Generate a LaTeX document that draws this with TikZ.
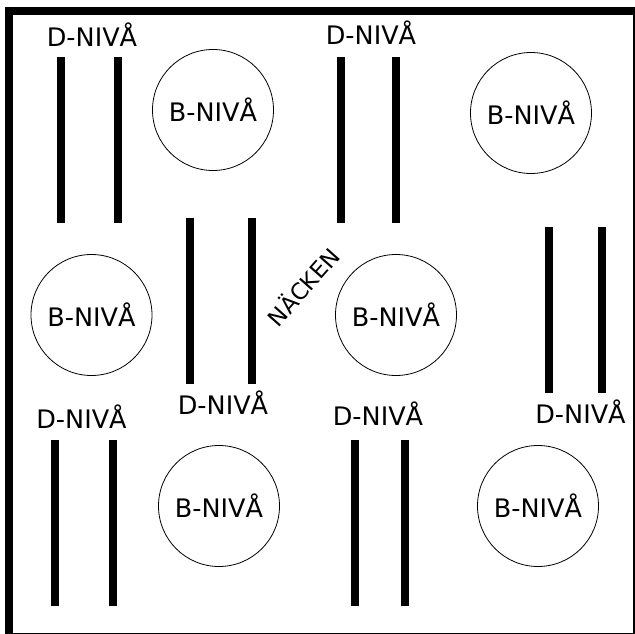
\documentclass[tikz,border=0pt]{standalone}
\usepackage{fontspec}
\setmainfont{DejaVu Sans}
\usetikzlibrary{positioning}

\begin{document}
\begin{tikzpicture}[x=1pt,y=-1pt,
        bniva/.style={draw,circle,line width=.8pt,minimum size=121pt,inner sep=0pt,font=\fontsize{25.5}{30}\selectfont},
        bar/.style={fill=black,minimum width=8pt,minimum height=166pt,inner sep=0pt},
        dniva/.style={anchor=base,inner sep=0pt,font=\fontsize{25.5}{30}\selectfont}]
            \useasboundingbox (0,0) rectangle (635,634);
            \draw[line width=8pt] (9,11) rectangle (637,637);

            \node[bniva] (b1) at (213,110) {B-NIVÅ};
            \node[bniva] (b2) at (531,113) {B-NIVÅ};
            \node[bniva] (b3) at (91.5,315) {B-NIVÅ};
            \node[bniva] (b4) at (396,315) {B-NIVÅ};
            \node[bniva] (b5) at (219,506) {B-NIVÅ};
            \node[bniva] (b6) at (538,506) {B-NIVÅ};

            \node[bar] (d1a) at (60.5,140) {};
            \node[bar] (d1b) at (117.5,140) {};
            \node[dniva] (d1) at (92,47) {D-NIVÅ};

            \node[bar] (d2a) at (341,140) {};
            \node[bar] (d2b) at (396,140) {};
            \node[dniva] (d2) at (371,45) {D-NIVÅ};

            \node[bar] (d3a) at (190,301) {};
            \node[bar] (d3b) at (252,301) {};
            \node[dniva] (d3) at (223,414) {D-NIVÅ};

            \node[bar] (d4a) at (549,309.5) {};
            \node[bar] (d4b) at (602,309.5) {};
            \node[dniva] (d4) at (580.5,423) {D-NIVÅ};

            \node[bar] (d5a) at (54.5,523) {};
            \node[bar] (d5b) at (113,523) {};
            \node[dniva] (d5) at (81.5,428) {D-NIVÅ};

            \node[bar] (d6a) at (355,523) {};
            \node[bar] (d6b) at (405,523) {};
            \node[dniva] (d6) at (378,425) {D-NIVÅ};

            \node[rotate=48.5,inner sep=0pt,font=\fontsize{22.7}{27}\selectfont] (nacken) at (302.5,286) {NÄCKEN};
        \end{tikzpicture}
\end{document}
